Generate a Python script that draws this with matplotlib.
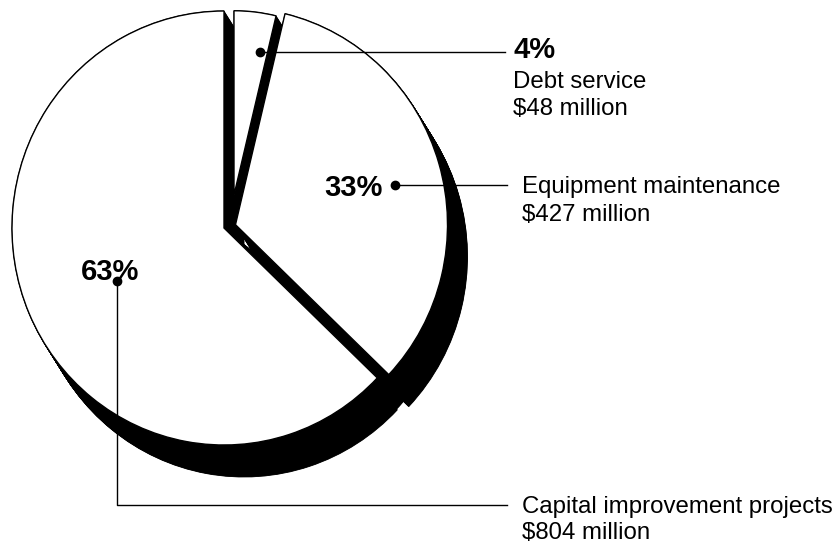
import matplotlib
matplotlib.use('Agg')
import matplotlib.pyplot as plt
from matplotlib.patches import Wedge
from matplotlib.transforms import Affine2D
import numpy as np

# ---- data ----
categories = ['Debt service', 'Equipment maintenance', 'Capital improvement projects']
amounts = [48, 427, 804]          # $ million
pct_labels = ['4%', '33%', '63%']
amount_labels = ['$48 million', '$427 million', '$804 million']

plt.rcParams['font.family'] = ['Liberation Sans', 'DejaVu Sans']

W, H = 840, 543
fig = plt.figure(figsize=(8.4, 5.43), dpi=100)
ax = fig.add_axes([0, 0, 1, 1])
ax.set_xlim(0, W)
ax.set_ylim(H, 0)
ax.axis('off')

# ---- layout / style ----
CX, CY = 224, 228          # pie centre
RX, RY = 212, 217          # pie radii
s = RY / RX
tr = Affine2D().scale(1, s) + ax.transData
EXTR = (20, 32)            # extrusion (depth) offset
explode = [(10, -33), (11.5, -3.3), (0, 0)]
radius = [180, RX, RX]

fracs = np.array(amounts, dtype=float) / np.sum(amounts)
angles = []
start = 90.0
for f in fracs:
    a_hi = start
    a_lo = start - 360 * f
    angles.append((a_lo, a_hi))
    start = a_lo


def wedge(cx, cy, r, a_lo, a_hi, **kw):
    # visual (math) angles -> y-down data angles
    return Wedge((cx, cy / s), r, -a_hi, -a_lo, transform=tr, **kw)


ts = np.linspace(0, 1, 60)

# extrusions (black depth)
for i, (a_lo, a_hi) in enumerate(angles):
    vx = CX + explode[i][0]
    vy = CY + explode[i][1]
    for t in ts:
        ax.add_patch(wedge(vx + t * EXTR[0], vy + t * EXTR[1], radius[i], a_lo, a_hi,
                           facecolor='black', edgecolor='black', lw=0.6, zorder=1))

# dark side wall between equipment and capital slices
b = angles[1][0]
for t in ts:
    ax.add_patch(wedge(CX + t * EXTR[0], CY + t * EXTR[1], RX - 1, b - 5, b + 5,
                       facecolor='black', edgecolor='black', lw=0.6, zorder=1.5))

# faces
for i in [2, 1, 0]:
    a_lo, a_hi = angles[i]
    vx = CX + explode[i][0]
    vy = CY + explode[i][1]
    ax.add_patch(wedge(vx, vy, radius[i], a_lo, a_hi,
                       facecolor='white', edgecolor='black', lw=1.0, zorder=2))

# ---- labels & leaders ----
lw = 1.0
pct_kw = dict(fontsize=21, fontweight='bold', color='black', zorder=5)
txt_kw = dict(fontsize=17.3, color='black', zorder=5)

# Debt service
ax.plot([260, 505], [52, 52], color='black', lw=lw, zorder=4)
ax.plot([260], [52], 'o', color='black', ms=6, zorder=4)
ax.text(513, 58, pct_labels[0], ha='left', va='baseline', **pct_kw)
ax.text(513, 88, categories[0], ha='left', va='baseline', **txt_kw)
ax.text(513, 115, amount_labels[0], ha='left', va='baseline', **txt_kw)

# Equipment maintenance
ax.plot([395, 507], [185, 185], color='black', lw=lw, zorder=4)
ax.plot([395], [185], 'o', color='black', ms=6, zorder=4)
ax.text(383, 196, pct_labels[1], ha='right', va='baseline', **pct_kw)
ax.text(522, 193, categories[1], ha='left', va='baseline', **txt_kw)
ax.text(522, 221, amount_labels[1], ha='left', va='baseline', **txt_kw)

# Capital improvement projects
ax.plot([117, 117, 507], [281, 505, 505], color='black', lw=lw, zorder=4)
ax.plot([117], [281], 'o', color='black', ms=6, zorder=4)
ax.text(110, 280, pct_labels[2], ha='center', va='baseline', **pct_kw)
ax.text(522, 513, categories[2], ha='left', va='baseline', **txt_kw)
ax.text(522, 539, amount_labels[2], ha='left', va='baseline', **txt_kw)

fig.savefig('out.png', dpi=100, facecolor='white')
